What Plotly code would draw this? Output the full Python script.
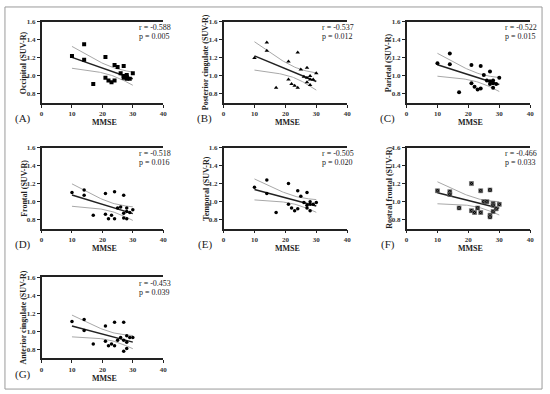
import numpy as np
import plotly.graph_objects as go

W, H = 550, 394

mmse = [10, 14, 14, 17, 21, 21, 22, 23, 24, 24, 25, 26, 27, 27, 27, 28, 28, 28, 29, 30]

occipital = [1.22, 1.35, 1.18, 0.91, 1.21, 0.98, 0.95, 0.93, 1.12, 0.95, 1.10, 1.03, 1.11, 1.00, 0.98, 1.01, 0.99, 0.97, 0.97, 1.03]
post_cing = [1.20, 1.37, 1.28, 0.87, 1.16, 0.96, 0.91, 0.89, 1.26, 0.87, 1.07, 0.99, 1.09, 0.98, 0.93, 1.00, 0.96, 0.90, 0.96, 1.03]
parietal = [1.14, 1.25, 1.13, 0.82, 1.12, 0.92, 0.88, 0.85, 1.11, 0.86, 1.01, 0.95, 1.05, 0.94, 0.91, 0.95, 0.92, 0.87, 0.91, 0.98]
frontal = [1.10, 1.13, 1.07, 0.85, 1.09, 0.86, 0.81, 0.85, 1.11, 0.81, 0.93, 0.94, 1.07, 0.87, 0.82, 0.93, 0.89, 0.81, 0.88, 0.91]
temporal = [1.16, 1.24, 1.09, 0.88, 1.20, 0.97, 0.93, 0.90, 1.12, 0.92, 1.06, 0.99, 1.10, 0.96, 0.93, 1.00, 0.97, 0.90, 0.97, 0.99]
rostral_frontal = [1.12, 1.11, 1.08, 0.93, 1.20, 0.90, 0.88, 0.93, 1.12, 0.88, 1.00, 1.00, 1.13, 0.85, 0.83, 0.98, 0.96, 0.89, 0.92, 0.97]
ant_cing = [1.11, 1.13, 1.01, 0.86, 1.06, 0.89, 0.84, 0.86, 1.10, 0.84, 0.90, 0.93, 1.10, 0.90, 0.78, 0.95, 0.88, 0.81, 0.93, 0.93]

ytitles = ["Occipital (SUV-R)", "Posterior cingulate (SUV-R)", "Parietal (SUV-R)",
           "Frontal (SUV-R)", "Temporal (SUV-R)", "Rostral frontal (SUV-R)", "Anterior cingulate (SUV-R)"]
panel_labels = ["(A)", "(B)", "(C)", "(D)", "(E)", "(F)", "(G)"]
r_texts = ["r = -0.588", "r = -0.537", "r = -0.522", "r = -0.518", "r = -0.505", "r = -0.466", "r = -0.453"]
p_texts = ["p = 0.005", "p = 0.012", "p = 0.015", "p = 0.016", "p = 0.020", "p = 0.033", "p = 0.039"]
series = [occipital, post_cing, parietal, frontal, temporal, rostral_frontal, ant_cing]
symbols = ["square", "triangle-up", "circle", "circle", "circle", "square-x", "circle"]
msizes = [4, 4, 4, 3.5, 3.5, 4, 3.5]

xticks = [0, 10, 20, 30, 40]
yticks = [0.8, 1.0, 1.2, 1.4, 1.6]
xrange_ = [0, 40]
yrange_ = [0.7, 1.6]

# pixel layout of plot areas
col_px = [(40, 163), (224, 349), (409, 534)]
row_px = [(18, 100), (145, 227), (276, 358)]

SERIF = "Liberation Serif, Times New Roman, serif"

fig = go.Figure()
annotations = []

for i in range(7):
    r, c = divmod(i, 3)
    n = i + 1
    xa = "x" if n == 1 else f"x{n}"
    ya = "y" if n == 1 else f"y{n}"
    x0, x1 = col_px[c]
    y0, y1 = row_px[r]
    xd = [x0 / W, x1 / W]
    yd = [1 - y1 / H, 1 - y0 / H]

    x = np.array(mmse, dtype=float)
    y = np.array(series[i], dtype=float)
    b, a = np.polyfit(x, y, 1)
    xs = np.linspace(min(x), max(x), 50)
    yfit = a + b * xs
    resid = y - (a + b * x)
    s = np.sqrt(np.sum(resid ** 2) / (len(x) - 2))
    sxx = np.sum((x - x.mean()) ** 2)
    se = s * np.sqrt(1 / len(x) + (xs - x.mean()) ** 2 / sxx)
    t = 2.101
    up = yfit + t * se
    lo = yfit - t * se

    for band in (up, lo):
        fig.add_trace(go.Scatter(x=xs, y=band, mode="lines", line=dict(color="#a8a8a8", width=1),
                                 xaxis=xa, yaxis=ya, showlegend=False, hoverinfo="skip"))
    fig.add_trace(go.Scatter(x=xs, y=yfit, mode="lines", line=dict(color="#222222", width=1.5),
                             xaxis=xa, yaxis=ya, showlegend=False))
    mk = dict(symbol=symbols[i], size=msizes[i], color="black")
    if symbols[i] == "square-x":
        mk["line"] = dict(color="#777777", width=0.6)
    fig.add_trace(go.Scatter(x=mmse, y=series[i], mode="markers", marker=mk,
                             xaxis=xa, yaxis=ya, showlegend=False))

    xkey = "xaxis" if n == 1 else f"xaxis{n}"
    ykey = "yaxis" if n == 1 else f"yaxis{n}"
    fig.update_layout({
        xkey: dict(domain=xd, anchor=ya, range=xrange_, tickvals=xticks, showgrid=False, zeroline=False,
                   showline=True, linecolor="#222222", linewidth=1.5, mirror=True,
                   ticks="outside", ticklen=3, tickwidth=1, tickcolor="#222222",
                   tickfont=dict(family=SERIF, size=7, color="#333333", weight="bold")),
        ykey: dict(domain=yd, anchor=xa, range=yrange_, tickvals=yticks, tickformat=".1f",
                   showgrid=False, zeroline=False,
                   showline=True, linecolor="#222222", linewidth=1.5,
                   ticks="outside", ticklen=3, tickwidth=1, tickcolor="#222222",
                   tickfont=dict(family=SERIF, size=7, color="#333333", weight="bold")),
    })

    # y title
    annotations.append(dict(x=(x0 - 18) / W, y=1 - ((y0 + y1) / 2) / H, xref="paper", yref="paper",
                            text=ytitles[i], textangle=-90, showarrow=False, xanchor="center", yanchor="middle",
                            font=dict(family=SERIF, size=8, color="#222222", weight="bold")))
    # x title
    annotations.append(dict(x=((x0 + x1) / 2 + 2) / W, y=1 - (y1 + 20) / H, xref="paper", yref="paper",
                            text="MMSE", showarrow=False, xanchor="center", yanchor="middle",
                            font=dict(family=SERIF, size=8, color="#222222", weight="bold")))
    # panel label
    annotations.append(dict(x=(x0 - 19) / W, y=1 - (y1 + 16) / H, xref="paper", yref="paper",
                            text=panel_labels[i], showarrow=False, xanchor="center", yanchor="middle",
                            font=dict(family=SERIF, size=11, color="#222222")))
    # r and p
    annotations.append(dict(x=(x1 - 27) / W, y=1 - (y0 + 6) / H, xref="paper", yref="paper",
                            text=r_texts[i], showarrow=False, xanchor="left", yanchor="middle",
                            font=dict(family=SERIF, size=8, color="#222222")))
    annotations.append(dict(x=(x1 - 27) / W, y=1 - (y0 + 15) / H, xref="paper", yref="paper",
                            text=p_texts[i], showarrow=False, xanchor="left", yanchor="middle",
                            font=dict(family=SERIF, size=8, color="#222222")))

fig.update_layout(
    width=W, height=H, autosize=False,
    margin=dict(l=0, r=0, t=0, b=0),
    paper_bgcolor="white", plot_bgcolor="white",
    annotations=annotations,
    shapes=[dict(type="rect", xref="paper", yref="paper", x0=3 / W, x1=546 / W, y0=1 - 389 / H, y1=1 - 3 / H,
                 line=dict(color="#9a9a9a", width=1), fillcolor="rgba(0,0,0,0)", layer="below")],
)

fig.write_html("out.html", config={"displayModeBar": False},
               post_script="document.body.style.margin='0';document.body.style.overflow='hidden';")
